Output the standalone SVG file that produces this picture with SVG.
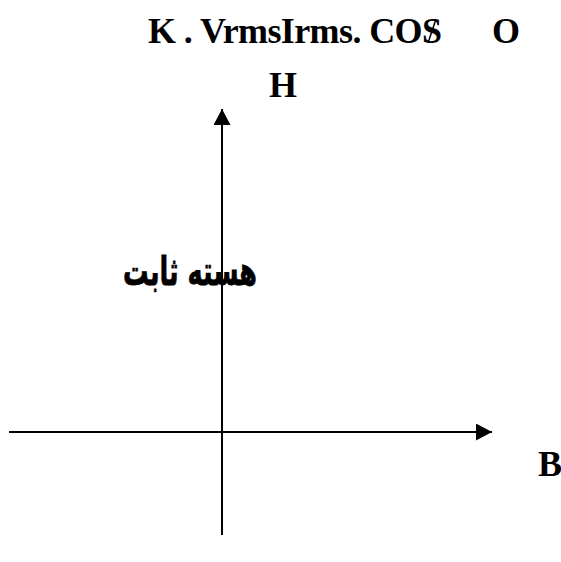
<svg xmlns="http://www.w3.org/2000/svg" width="561" height="562" viewBox="0 0 561 562">
<style>
.lbl{font-family:"Liberation Serif","Times New Roman",serif;font-weight:bold;font-size:36px;fill:#000}
.fa{font-family:"DejaVu Sans",sans-serif;font-weight:bold;font-size:40px;fill:#000;stroke:#000;stroke-width:0.8}
.ax{stroke:#000;stroke-width:2;fill:none}
</style>
<defs>
<marker id="ah" markerWidth="16" markerHeight="17" refX="16" refY="8.5" orient="auto" markerUnits="userSpaceOnUse">
<path d="M0,0 L16,8.5 L0,17 Z" fill="#000"/>
</marker>
</defs>
<rect width="561" height="562" fill="#fff"/>
<g id="connectors">
<line class="ax" x1="222" y1="535" x2="222" y2="109" marker-end="url(#ah)"/>
<line class="ax" x1="9" y1="432" x2="492" y2="432" marker-end="url(#ah)"/>
</g>
<g id="title">
<text class="lbl" x="148" y="43" textLength="294" lengthAdjust="spacing">K . VrmsIrms. COS</text>
<text class="lbl" x="492" y="43">O</text>
<line x1="428" y1="43" x2="436" y2="19" stroke="#000" stroke-width="1.5"/>
</g>
<g id="label-H"><text class="lbl" x="269" y="97">H</text></g>
<g id="label-B"><text class="lbl" x="538" y="476">B</text></g>
<g id="label-core"><text class="fa" x="257" y="285" text-anchor="end" textLength="134" lengthAdjust="spacingAndGlyphs">هسته ثابت</text></g>
</svg>
